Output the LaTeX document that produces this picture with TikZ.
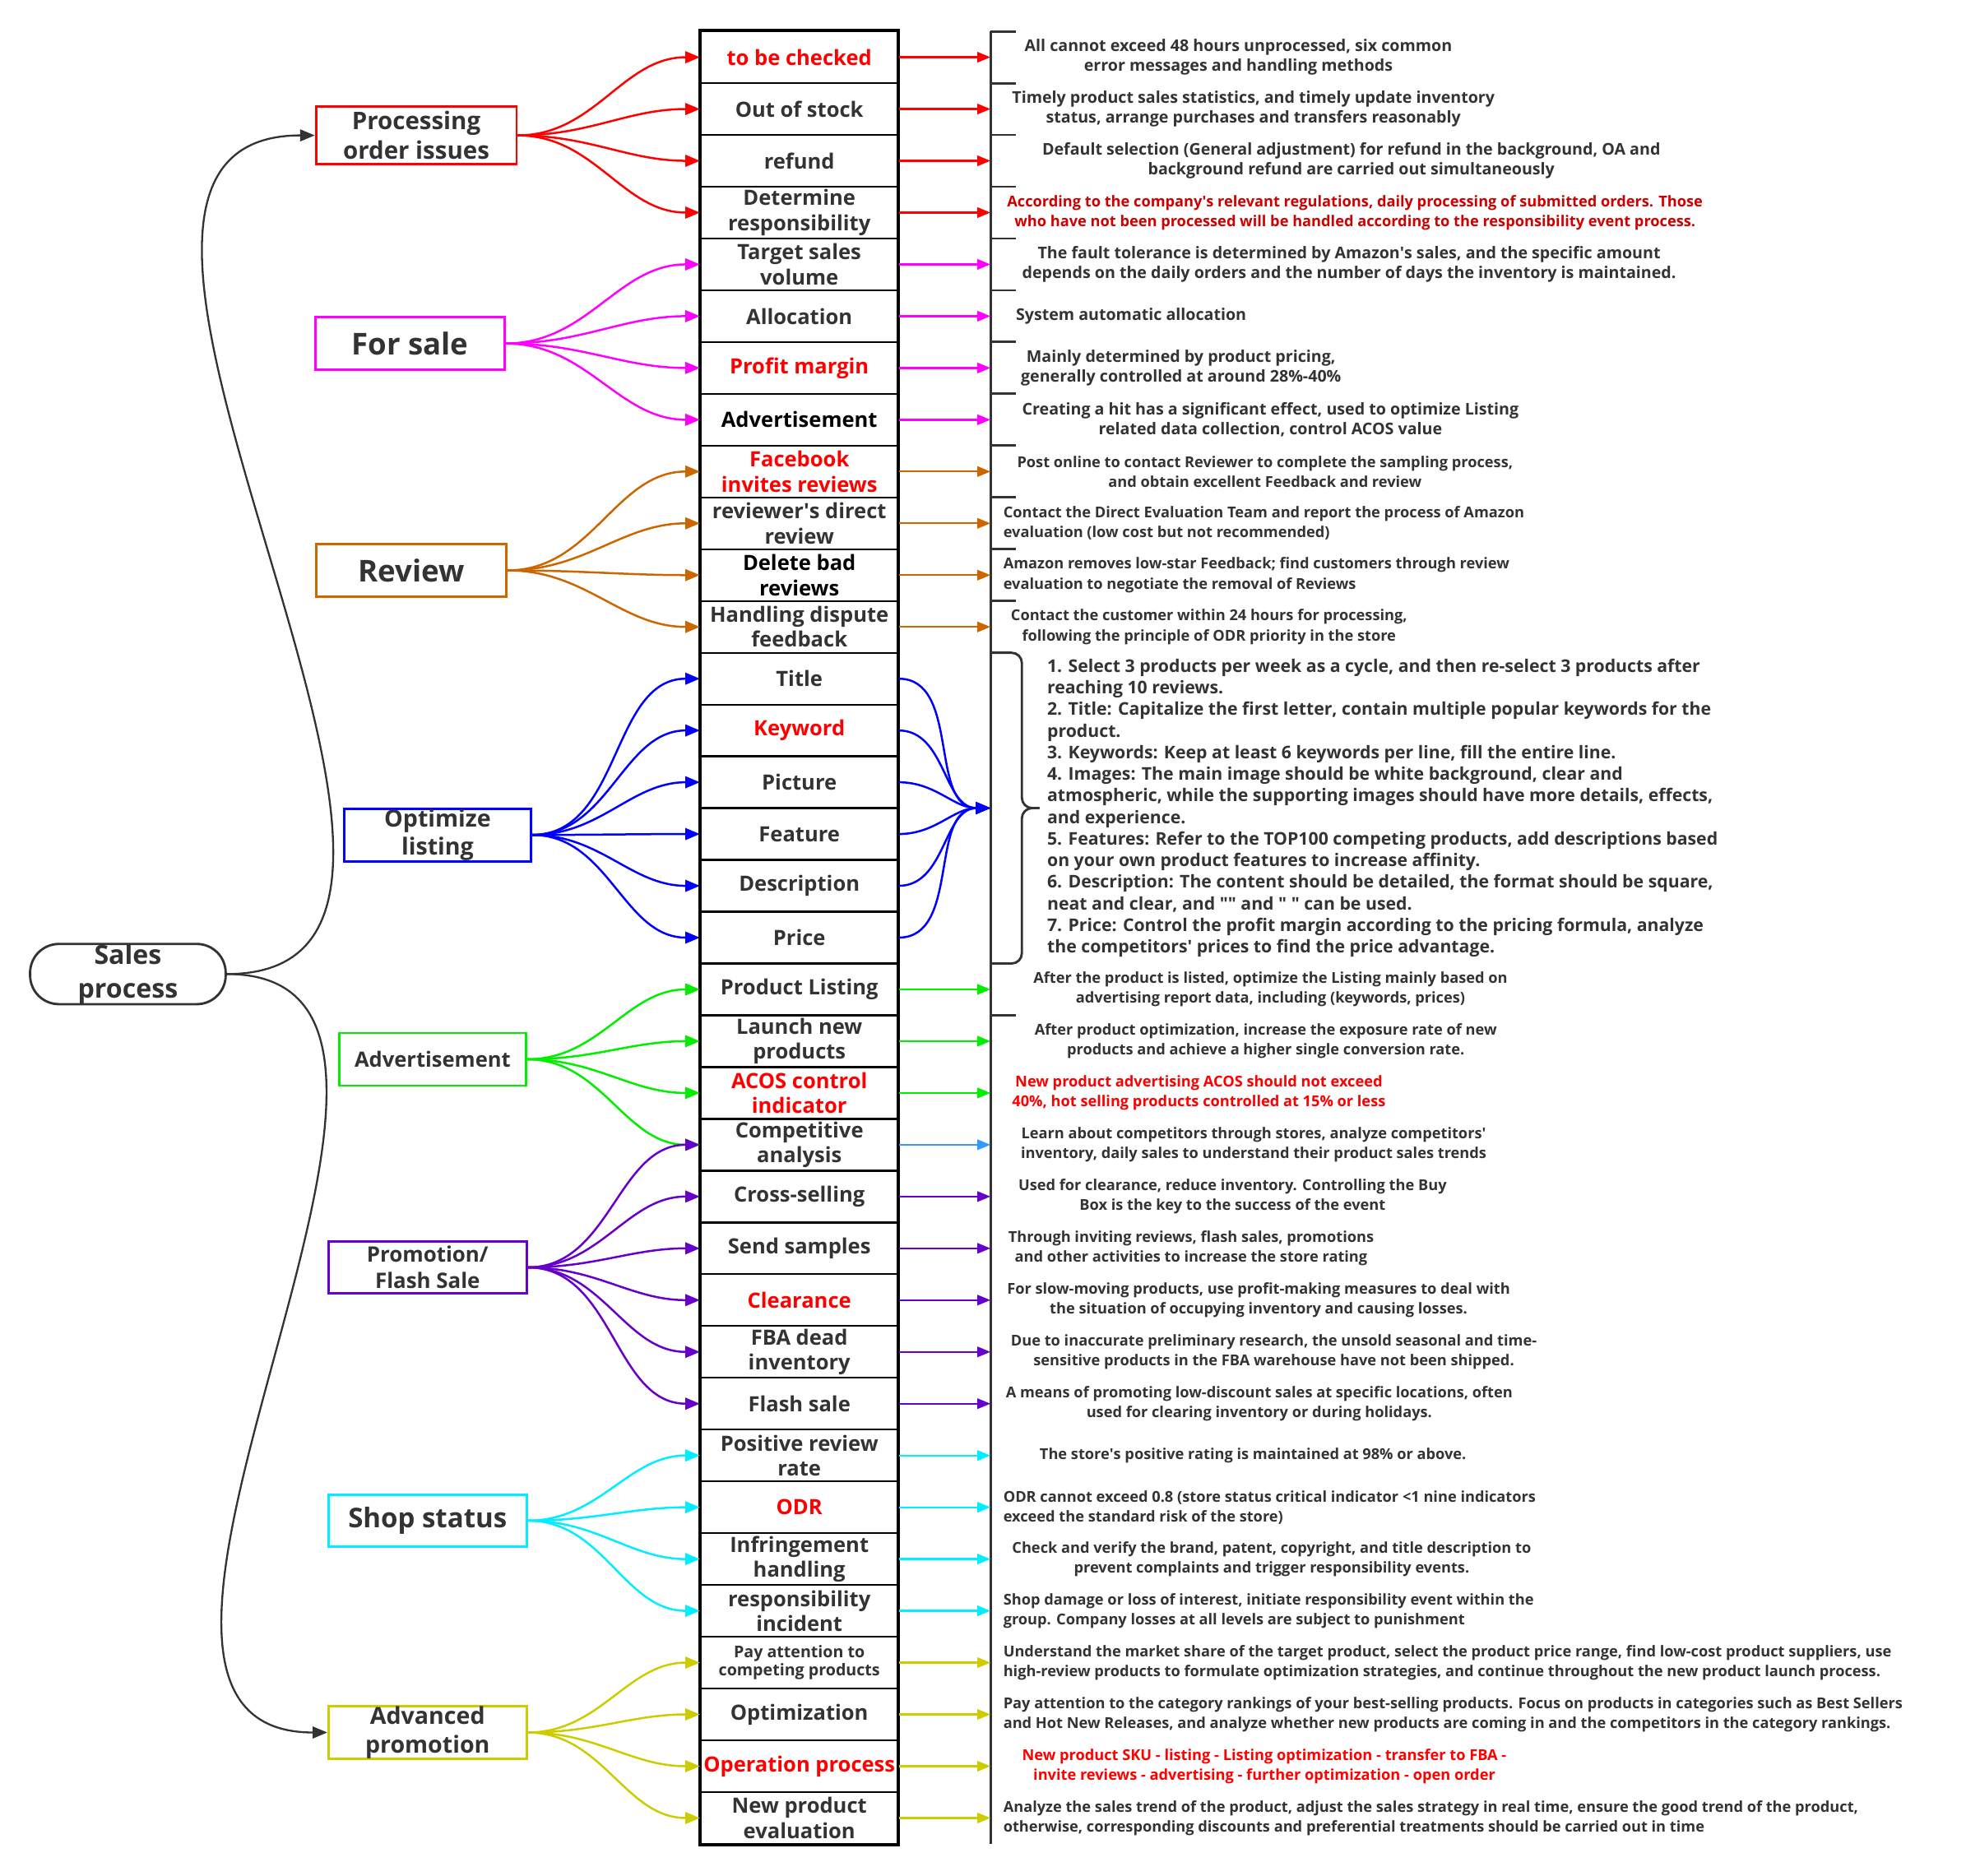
\documentclass[tikz,border=0pt]{standalone}
\usepackage{fontspec}
\setmainfont{Open Sans}
\usetikzlibrary{arrows.meta,positioning}

\definecolor{ink}{HTML}{333333}
\definecolor{cred}{HTML}{FF0000}
\definecolor{cdark}{HTML}{D00000}
\definecolor{cmag}{HTML}{FF00FF}
\definecolor{corange}{HTML}{CC6600}
\definecolor{cblue}{HTML}{0000FF}
\definecolor{cgreen}{HTML}{00EE00}
\definecolor{csky}{HTML}{3399FF}
\definecolor{cpurple}{HTML}{6600CC}
\definecolor{ccyan}{HTML}{00EEFF}
\definecolor{colive}{HTML}{CCCC00}

\newcommand\ap{\textquotesingle}
\newcommand\qq{\textquotedbl}

\tikzset{
  cat/.style={draw, line width=1.6pt, text=ink, align=center, inner sep=0pt},
  cell/.style={draw=black, line width=1.3pt, minimum width=47.1mm, minimum height=12.39mm, inner sep=0pt, align=center},
  cellbig/.style={font=\fontsize{14.3}{17}\selectfont\bfseries},
  cellsmall/.style={font=\fontsize{11}{12.5}\selectfont\bfseries},
  desc/.style={inner sep=0pt, text=ink, align=center, font=\fontsize{10.2}{13.6}\selectfont\bfseries},
  descbig/.style={desc, font=\fontsize{11}{13.6}\selectfont\bfseries},
  descl/.style={desc, align=left},
  larr/.style={line width=1.4pt, -{Triangle[length=10pt,width=8pt]}},
  rarr/.style={line width=1.3pt, -{Triangle[length=9pt,width=7pt]}},
  rootarr/.style={ink, line width=1.3pt, -{Triangle[length=10pt,width=8pt]}},
  bar/.style={ink, line width=1.6pt}
}

\begin{document}
\begin{tikzpicture}[x=0.3mm,y=-0.3mm]
  \useasboundingbox (0,0) rectangle (1568,1496);

  % middle column
  \foreach \k/\t/\c/\f in {
    1/{to be checked}/cred/cellbig,
    2/{Out of stock}/ink/cellbig,
    3/{refund}/ink/cellbig,
    4/{Determine\\responsibility}/ink/cellbig,
    5/{Target sales\\volume}/ink/cellbig,
    6/{Allocation}/ink/cellbig,
    7/{Profit margin}/cred/cellbig,
    8/{Advertisement}/black/cellbig,
    9/{Facebook\\invites reviews}/cred/cellbig,
    10/{reviewer\ap s direct\\review}/ink/cellbig,
    11/{Delete bad\\reviews}/black/cellbig,
    12/{Handling dispute\\feedback}/ink/cellbig,
    13/{Title}/ink/cellbig,
    14/{Keyword}/cred/cellbig,
    15/{Picture}/ink/cellbig,
    16/{Feature}/ink/cellbig,
    17/{Description}/ink/cellbig,
    18/{Price}/ink/cellbig,
    19/{Product Listing}/ink/cellbig,
    20/{Launch new\\products}/ink/cellbig,
    21/{ACOS control\\indicator}/cred/cellbig,
    22/{Competitive\\analysis}/ink/cellbig,
    23/{Cross-selling}/ink/cellbig,
    24/{Send samples}/ink/cellbig,
    25/{Clearance}/cred/cellbig,
    26/{FBA dead\\inventory}/ink/cellbig,
    27/{Flash sale}/ink/cellbig,
    28/{Positive review\\rate}/ink/cellbig,
    29/{ODR}/cred/cellbig,
    30/{Infringement\\handling}/ink/cellbig,
    31/{responsibility\\incident}/ink/cellbig,
    32/{Pay attention to\\competing products}/ink/cellsmall,
    33/{Optimization}/ink/cellbig,
    34/{Operation process}/cred/cellbig,
    35/{New product\\evaluation}/ink/cellbig}{
    \node[cell, \f, text=\c] (m\k) at (637.5, {45.66+41.31*(\k-1)}) {\t};
    \coordinate (b\k) at (790, {45.66+41.31*(\k-1)});
  }
  \draw[line width=2pt] (m1.north west) rectangle (m35.south east);
  \coordinate (hub) at (790,644.6);

  % bracket line
  \draw[bar] (790,25) -- (790,1471);
  \foreach \j in {0,...,11,19,...,35}
    \draw[bar] (790,{25+41.31*\j}) -- +(20,0);
  \draw[bar, rounded corners=7] (790,520.7) -- (815,520.7) -- (815,644.6) -- (829,644.6);
  \draw[bar, rounded corners=7] (790,768.6) -- (815,768.6) -- (815,644.6) -- (829,644.6);

  % categories
  \node[cat, draw=ink, rounded corners=6.9mm, minimum width=46.8mm, minimum height=13.8mm,
    font=\fontsize{18}{23}\selectfont\bfseries] (root) at (102,777) {Sales\\process};
  \node[cat, draw=cred, minimum width=48mm, minimum height=13.8mm,
    font=\fontsize{16.5}{20}\selectfont\bfseries] (proc) at (332,108) {Processing\\order issues};
  \node[cat, draw=cmag, minimum width=45.3mm, minimum height=12.6mm,
    font=\fontsize{20.5}{22}\selectfont\bfseries] (sale) at (327,274) {For sale};
  \node[cat, draw=corange, minimum width=45.6mm, minimum height=12.6mm,
    font=\fontsize{20.5}{22}\selectfont\bfseries] (review) at (328,455) {Review};
  \node[cat, draw=cblue, minimum width=44.7mm, minimum height=12.6mm,
    font=\fontsize{16}{19.5}\selectfont\bfseries] (opt) at (349,666) {Optimize\\listing};
  \node[cat, draw=cgreen, minimum width=44.7mm, minimum height=12.6mm,
    font=\fontsize{14.3}{16}\selectfont\bfseries] (adv) at (345,845) {Advertisement};
  \node[cat, draw=cpurple, minimum width=47.4mm, minimum height=12.3mm,
    font=\fontsize{14.5}{18}\selectfont\bfseries] (promo) at (341,1011) {Promotion/\\Flash Sale};
  \node[cat, draw=ccyan, minimum width=47.4mm, minimum height=12.3mm,
    font=\fontsize{18.5}{21}\selectfont\bfseries] (shop) at (341,1213) {Shop status};
  \node[cat, draw=colive, minimum width=47.4mm, minimum height=12.6mm,
    font=\fontsize{16}{19.5}\selectfont\bfseries] (advp) at (341,1382) {Advanced\\promotion};

  \draw[rootarr] (root.east) to[out=0,in=180] (proc.west);
  \draw[rootarr] (root.east) to[out=0,in=180] (advp.west);

  % fans into the column
  \foreach \k in {1,...,4} \draw[larr, cred] (proc.east) to[out=0,in=180] (m\k.west);
  \foreach \k in {5,...,8} \draw[larr, cmag] (sale.east) to[out=0,in=180] (m\k.west);
  \foreach \k in {9,...,12} \draw[larr, corange] (review.east) to[out=0,in=180] (m\k.west);
  \foreach \k in {13,...,18} \draw[larr, cblue] (opt.east) to[out=0,in=180] (m\k.west);
  \foreach \k in {19,...,22} \draw[larr, cgreen] (adv.east) to[out=0,in=180] (m\k.west);
  \foreach \k in {22,...,27} \draw[larr, cpurple] (promo.east) to[out=0,in=180] (m\k.west);
  \foreach \k in {28,...,31} \draw[larr, ccyan] (shop.east) to[out=0,in=180] (m\k.west);
  \foreach \k in {32,...,35} \draw[larr, colive] (advp.east) to[out=0,in=180] (m\k.west);

  % out of the column
  \foreach \k/\c in {1/cred,2/cred,3/cred,4/cred,5/cmag,6/cmag,7/cmag,8/cmag,
    9/corange,10/corange,11/corange,12/corange,19/cgreen,20/cgreen,21/cgreen,22/csky,
    23/cpurple,24/cpurple,25/cpurple,26/cpurple,27/cpurple,28/ccyan,29/ccyan,30/ccyan,31/ccyan,
    32/colive,33/colive,34/colive,35/colive}
    \draw[rarr, \c] (m\k.east) -- (b\k);
  \foreach \k in {13,...,18} \draw[larr, cblue] (m\k.east) to[out=0,in=180] (hub);

  % notes
  \node[descbig, right=8.1mm of b1] (d1) {All cannot exceed 48 hours unprocessed, six common\\error messages and handling methods};
  \node[descbig, right=5.1mm of b2] (d2) {Timely product sales statistics, and timely update inventory\\status, arrange purchases and transfers reasonably};
  \node[descbig, right=12.3mm of b3] (d3) {Default selection (General adjustment) for refund in the background, OA and\\background refund are carried out simultaneously};
  \node[desc, text=cdark, right=3.9mm of b4] (d4) {According to the company\ap s relevant regulations, daily processing of submitted orders. Those\\who have not been processed will be handled according to the responsibility event process.};
  \node[descbig, right=7.5mm of b5] (d5) {The fault tolerance is determined by Amazon\ap s sales, and the specific amount\\depends on the daily orders and the number of days the inventory is maintained.};
  \node[descbig, right=6mm of b6] (d6) {System automatic allocation};
  \node[descbig, right=7.2mm of b7] (d7) {Mainly determined by product pricing,\\generally controlled at around 28\%-40\%};
  \node[descbig, right=7.5mm of b8] (d8) {Creating a hit has a significant effect, used to optimize Listing\\related data collection, control ACOS value};
  \node[desc, right=6.3mm of b9] (d9) {Post online to contact Reviewer to complete the sampling process,\\and obtain excellent Feedback and review};
  \node[descl, right=3mm of b10] (d10) {Contact the Direct Evaluation Team and report the process of Amazon\\evaluation (low cost but not recommended)};
  \node[descl, right=3mm of b11] (d11) {Amazon removes low-star Feedback; find customers through review\\evaluation to negotiate the removal of Reviews};
  \node[desc, right=4.8mm of b12] (d12) {Contact the customer within 24 hours for processing,\\following the principle of ODR priority in the store};
  \node[descl, font=\fontsize{11.9}{14.7}\selectfont\bfseries, right=13.5mm of hub] (dlist) {1. Select 3 products per week as a cycle, and then re-select 3 products after\\
    reaching 10 reviews.\\
    2. Title: Capitalize the first letter, contain multiple popular keywords for the\\
    product.\\
    3. Keywords: Keep at least 6 keywords per line, fill the entire line.\\
    4. Images: The main image should be white background, clear and\\
    atmospheric, while the supporting images should have more details, effects,\\
    and experience.\\
    5. Features: Refer to the TOP100 competing products, add descriptions based\\
    on your own product features to increase affinity.\\
    6. Description: The content should be detailed, the format should be square,\\
    neat and clear, and \qq\qq\ and \qq\ \qq\ can be used.\\
    7. Price: Control the profit margin according to the pricing formula, analyze\\
    the competitors\ap\ prices to find the price advantage.};
  \node[desc, right=10.2mm of b19] (d19) {After the product is listed, optimize the Listing mainly based on\\advertising report data, including (keywords, prices)};
  \node[desc, right=10.5mm of b20] (d20) {After product optimization, increase the exposure rate of new\\products and achieve a higher single conversion rate.};
  \node[desc, text=cred, right=5.1mm of b21] (d21) {New product advertising ACOS should not exceed\\40\%, hot selling products controlled at 15\% or less};
  \node[desc, right=7.2mm of b22] (d22) {Learn about competitors through stores, analyze competitors\ap\\inventory, daily sales to understand their product sales trends};
  \node[desc, right=6.6mm of b23] (d23) {Used for clearance, reduce inventory. Controlling the Buy\\Box is the key to the success of the event};
  \node[desc, right=4.2mm of b24] (d24) {Through inviting reviews, flash sales, promotions\\and other activities to increase the store rating};
  \node[desc, right=3.9mm of b25] (d25) {For slow-moving products, use profit-making measures to deal with\\the situation of occupying inventory and causing losses.};
  \node[desc, right=4.8mm of b26] (d26) {Due to inaccurate preliminary research, the unsold seasonal and time-\\sensitive products in the FBA warehouse have not been shipped.};
  \node[desc, right=3.6mm of b27] (d27) {A means of promoting low-discount sales at specific locations, often\\used for clearing inventory or during holidays.};
  \node[desc, right=11.7mm of b28] (d28) {The store\ap s positive rating is maintained at 98\% or above.};
  \node[descl, right=3mm of b29] (d29) {ODR cannot exceed 0.8 (store status critical indicator <1 nine indicators\\exceed the standard risk of the store)};
  \node[desc, right=5.1mm of b30] (d30) {Check and verify the brand, patent, copyright, and title description to\\prevent complaints and trigger responsibility events.};
  \node[descl, right=3mm of b31] (d31) {Shop damage or loss of interest, initiate responsibility event within the\\group. Company losses at all levels are subject to punishment};
  \node[descl, right=3mm of b32] (d32) {Understand the market share of the target product, select the product price range, find low-cost product suppliers, use\\high-review products to formulate optimization strategies, and continue throughout the new product launch process.};
  \node[descl, right=3mm of b33] (d33) {Pay attention to the category rankings of your best-selling products. Focus on products in categories such as Best Sellers\\and Hot New Releases, and analyze whether new products are coming in and the competitors in the category rankings.};
  \node[desc, text=cred, right=7.5mm of b34] (d34) {New product SKU - listing - Listing optimization - transfer to FBA -\\invite reviews - advertising - further optimization - open order};
  \node[descl, right=3mm of b35] (d35) {Analyze the sales trend of the product, adjust the sales strategy in real time, ensure the good trend of the product,\\otherwise, corresponding discounts and preferential treatments should be carried out in time};
\end{tikzpicture}
\end{document}
